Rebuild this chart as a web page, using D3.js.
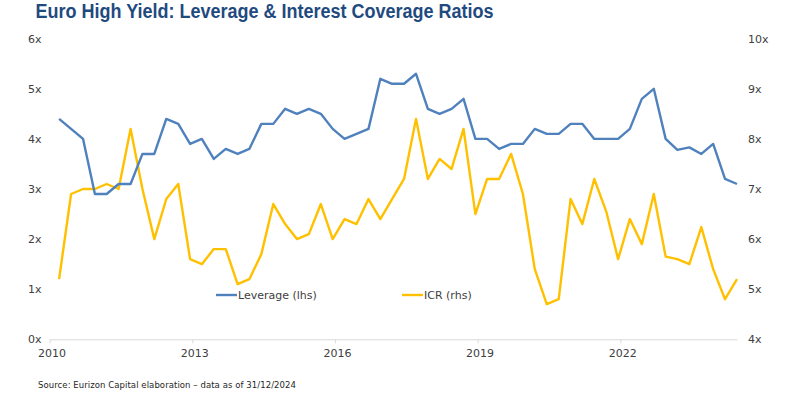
<!DOCTYPE html>
<html>
<head>
<meta charset="utf-8">
<script src="https://cdn.jsdelivr.net/npm/d3@7"></script>
<style>
  body { margin: 0; background: #fff; }
  svg text { font-family: "DejaVu Sans", sans-serif; fill: #404040; }
</style>
</head>
<body>
<div id="chart"></div>
<script>
// quarterly observations (plotted mid-month of the quarter's last month)
const quarters = [
  "2010-03-15", "2010-06-15", "2010-09-15", "2010-12-15",
  "2011-03-15", "2011-06-15", "2011-09-15", "2011-12-15",
  "2012-03-15", "2012-06-15", "2012-09-15", "2012-12-15",
  "2013-03-15", "2013-06-15", "2013-09-15", "2013-12-15",
  "2014-03-15", "2014-06-15", "2014-09-15", "2014-12-15",
  "2015-03-15", "2015-06-15", "2015-09-15", "2015-12-15",
  "2016-03-15", "2016-06-15", "2016-09-15", "2016-12-15",
  "2017-03-15", "2017-06-15", "2017-09-15", "2017-12-15",
  "2018-03-15", "2018-06-15", "2018-09-15", "2018-12-15",
  "2019-03-15", "2019-06-15", "2019-09-15", "2019-12-15",
  "2020-03-15", "2020-06-15", "2020-09-15", "2020-12-15",
  "2021-03-15", "2021-06-15", "2021-09-15", "2021-12-15",
  "2022-03-15", "2022-06-15", "2022-09-15", "2022-12-15",
  "2023-03-15", "2023-06-15", "2023-09-15", "2023-12-15",
  "2024-03-15", "2024-06-15"
];

const leverage = [
  4.4, 4.2, 4.0, 2.9, 2.9, 3.1, 3.1, 3.7, 3.7, 4.4, 4.3, 3.9,
  4.0, 3.6, 3.8, 3.7, 3.8, 4.3, 4.3, 4.6, 4.5, 4.6, 4.5, 4.2,
  4.0, 4.1, 4.2, 5.2, 5.1, 5.1, 5.3, 4.6, 4.5, 4.6, 4.8, 4.0,
  4.0, 3.8, 3.9, 3.9, 4.2, 4.1, 4.1, 4.3, 4.3, 4.0, 4.0, 4.0,
  4.2, 4.8, 5.0, 4.0, 3.78, 3.83, 3.7, 3.9, 3.2, 3.1
];

const icr = [
  5.2, 6.9, 7.0, 7.0, 7.1, 7.0, 8.2, 7.0, 6.0, 6.8, 7.1, 5.6,
  5.5, 5.8, 5.8, 5.1, 5.2, 5.7, 6.7, 6.3, 6.0, 6.1, 6.7, 6.0,
  6.4, 6.3, 6.8, 6.4, 6.8, 7.2, 8.4, 7.2, 7.6, 7.4, 8.2, 6.5,
  7.2, 7.2, 7.7, 6.9, 5.4, 4.7, 4.8, 6.8, 6.3, 7.2, 6.55, 5.6,
  6.4, 5.9, 6.9, 5.65, 5.6, 5.5, 6.24, 5.4, 4.8, 5.2
];

const yearTicks = ["2010", "2013", "2016", "2019", "2022"];
const leftTicks = [0, 1, 2, 3, 4, 5, 6];
const rightTicks = [4, 5, 6, 7, 8, 9, 10];

const title = "Euro High Yield: Leverage & Interest Coverage Ratios";
const source = "Source: Eurizon Capital elaboration \u2013 data as of 31/12/2024";
const seriesNames = ["Leverage (lhs)", "ICR (rhs)"];

const W = 786, H = 398;
const plot = { left: 49.6, right: 737, top: 38.7, bottom: 339.3 };
const blue = "#4f81bd", gold = "#ffc000";

const parse = d3.utcParse("%Y-%m-%d");
const dates = quarters.map(parse);

const svg = d3.select("#chart").append("svg")
  .attr("width", W)
  .attr("height", H);

const x = d3.scaleUtc()
  .domain([new Date(Date.UTC(2010, 0, 1)), dates[dates.length - 1]])
  .range([plot.left, plot.right]);
const yL = d3.scaleLinear().domain([0, 6]).range([plot.bottom, plot.top]);
const yR = d3.scaleLinear().domain([4, 10]).range([plot.bottom, plot.top]);

// title
svg.append("text")
  .attr("x", 35.5)
  .attr("y", 18)
  .attr("textLength", 458)
  .attr("lengthAdjust", "spacingAndGlyphs")
  .style("font-family", "'Liberation Sans', Arial, sans-serif")
  .style("font-weight", "bold")
  .style("font-size", "19.5px")
  .style("fill", "#1f4a80")
  .text(title);

// x axis
const xAxis = d3.axisBottom(x)
  .tickValues(yearTicks.map(y => new Date(Date.UTC(+y, 0, 1))))
  .tickFormat(d3.utcFormat("%Y"))
  .tickSize(4)
  .tickSizeOuter(0)
  .tickPadding(6);

const gx = svg.append("g")
  .attr("class", "axis axis--x")
  .attr("transform", `translate(0, ${plot.bottom})`)
  .call(xAxis);
gx.select(".domain").attr("stroke", "#d9d9d9").attr("stroke-width", 1);
gx.selectAll(".tick line").attr("stroke", "#d9d9d9");
gx.selectAll(".tick text").attr("dx", 2).style("font-size", "11px").style("fill", "#404040");

// left axis
const gl = svg.append("g")
  .attr("class", "axis axis--yl")
  .attr("transform", `translate(28, 0)`)
  .call(d3.axisLeft(yL).tickValues(leftTicks).tickFormat(d => d + "x").tickSize(0).tickPadding(0));
gl.select(".domain").remove();
gl.selectAll(".tick text").attr("text-anchor", "start").style("font-size", "11px").style("fill", "#404040");

// right axis
const gr = svg.append("g")
  .attr("class", "axis axis--yr")
  .attr("transform", `translate(748, 0)`)
  .call(d3.axisRight(yR).tickValues(rightTicks).tickFormat(d => d + "x").tickSize(0).tickPadding(0));
gr.select(".domain").remove();
gr.selectAll(".tick text").style("font-size", "11px").style("fill", "#404040");

// lines
const levLine = d3.line().x((d, i) => x(dates[i])).y(d => yL(d));
const icrLine = d3.line().x((d, i) => x(dates[i])).y(d => yR(d));

svg.append("path").datum(icr)
  .attr("class", "line2")
  .attr("fill", "none")
  .attr("stroke", gold)
  .attr("stroke-width", 2.4)
  .attr("stroke-linejoin", "round")
  .attr("d", icrLine);

svg.append("path").datum(leverage)
  .attr("class", "line1")
  .attr("fill", "none")
  .attr("stroke", blue)
  .attr("stroke-width", 2.4)
  .attr("stroke-linejoin", "round")
  .attr("d", levLine);

// legend
const legend = [
  { name: seriesNames[0], color: blue, x: 216 },
  { name: seriesNames[1], color: gold, x: 402 }
];
const lg = svg.append("g").attr("class", "legend");
legend.forEach(l => {
  lg.append("line")
    .attr("x1", l.x).attr("x2", l.x + 21)
    .attr("y1", 295).attr("y2", 295)
    .attr("stroke", l.color)
    .attr("stroke-width", 2.4);
  lg.append("text")
    .attr("x", l.x + 22)
    .attr("y", 295.5)
    .attr("dy", "0.35em")
    .style("font-size", "11px")
    .text(l.name);
});

// source note
svg.append("text")
  .attr("x", 38)
  .attr("y", 388)
  .attr("textLength", 258)
  .style("font-size", "8.5px")
  .style("fill", "#262626")
  .text(source);
</script>
</body>
</html>
